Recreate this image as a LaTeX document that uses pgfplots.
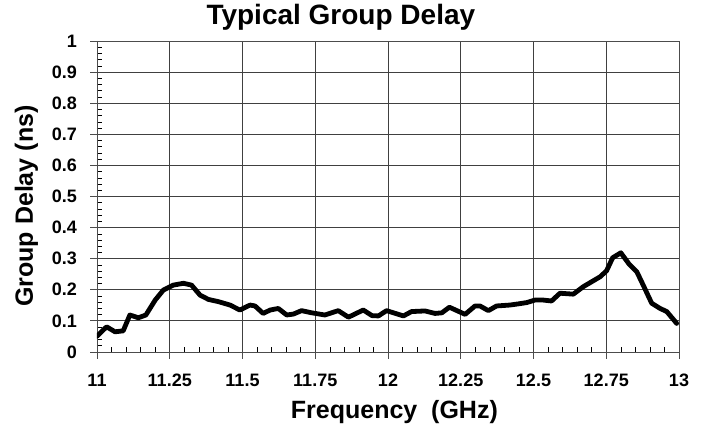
\documentclass[border=0pt]{standalone}
\usepackage{fontspec}
\setmainfont{Liberation Sans}
\usepackage{pgfplots}
\pgfplotsset{compat=1.18}
\begin{document}
\begin{tikzpicture}
\begin{axis}[
  scale only axis,
  width=582pt, height=311pt,
  xmin=11, xmax=13, ymin=0, ymax=1,
  xtick={11,11.25,...,13},
  xticklabels={11,11.25,11.5,11.75,12,12.25,12.5,12.75,13},
  ytick={0,0.1,...,1},
  yticklabels={0,0.1,0.2,0.3,0.4,0.5,0.6,0.7,0.8,0.9,1},
  minor x tick num=4, minor y tick num=4,
  grid=major,
  major grid style={line width=0.9pt, black!75},
  axis line style={line width=0.9pt, black!70},
  every major tick/.style={line width=0.9pt, black!70},
  every minor tick/.style={line width=0.6pt, black},
  tick align=inside,
  major tick length=-7pt, minor tick length=5pt,
  tick pos=left,
  ticklabel style={font=\fontsize{18}{20}\selectfont\bfseries, inner sep=0pt},
  xticklabel style={anchor=base, yshift=-34.5pt},
  yticklabel style={anchor=east, xshift=-20pt},
  title={Typical Group Delay},
  title style={font=\fontsize{28}{30}\selectfont\bfseries, at={(axis description cs:0.419,1.033)}, anchor=base, inner sep=0pt},
  xlabel={Frequency\ \ (GHz)},
  ylabel={Group Delay (ns)},
  label style={font=\fontsize{25}{27}\selectfont\bfseries, inner sep=0pt},
  xlabel style={at={(axis description cs:0.511,-0.2154)}, anchor=base},
  ylabel style={at={(axis description cs:-0.11,0.469)}, anchor=base},
]
\addplot[line width=4.8pt, black, line join=round, line cap=round] coordinates {
(11.0,0.051) (11.033,0.081) (11.062,0.065) (11.09,0.068) (11.113,0.119)
(11.142,0.11) (11.168,0.119) (11.2,0.167) (11.228,0.199) (11.262,0.215)
(11.297,0.221) (11.325,0.215) (11.354,0.183) (11.383,0.169) (11.417,0.162)
(11.457,0.151) (11.491,0.135) (11.526,0.151) (11.543,0.148) (11.571,0.124)
(11.595,0.135) (11.623,0.14) (11.652,0.119) (11.675,0.122) (11.703,0.133)
(11.738,0.126) (11.783,0.119) (11.829,0.133) (11.864,0.112) (11.915,0.135)
(11.945,0.117) (11.967,0.116) (11.995,0.133) (12.053,0.116) (12.081,0.13)
(12.127,0.132) (12.162,0.124) (12.185,0.126) (12.211,0.144) (12.265,0.121)
(12.299,0.148) (12.316,0.148) (12.345,0.133) (12.373,0.148) (12.419,0.151)
(12.45,0.155) (12.477,0.159) (12.505,0.167) (12.533,0.167) (12.562,0.164)
(12.591,0.189) (12.637,0.186) (12.671,0.21) (12.7,0.226) (12.729,0.242)
(12.751,0.261) (12.772,0.303) (12.8,0.319) (12.829,0.282) (12.855,0.258)
(12.877,0.215) (12.906,0.157) (12.935,0.14) (12.958,0.13) (12.992,0.092)
};
\end{axis}
\pgfresetboundingbox
\path (current axis.south west) ++(-97pt,-74pt) coordinate (bl);
\path (current axis.north east) ++(26pt,41pt) coordinate (tr);
\path (bl) rectangle (tr);
\end{tikzpicture}
\end{document}
